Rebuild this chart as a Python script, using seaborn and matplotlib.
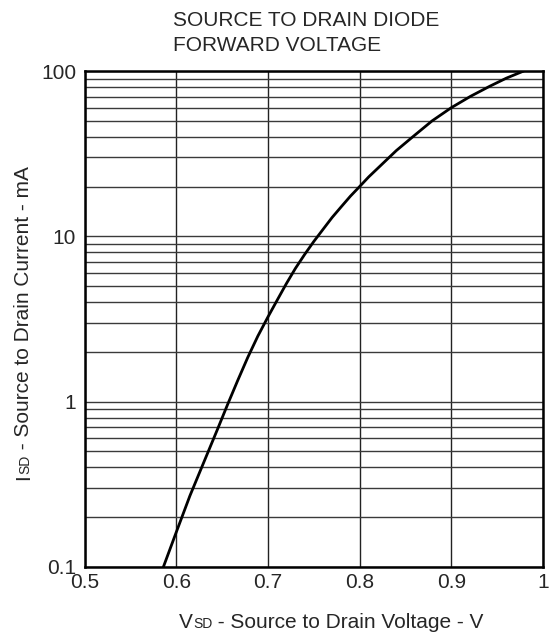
import matplotlib
matplotlib.use("Agg")
import matplotlib.pyplot as plt
import seaborn as sns
import pandas as pd
from matplotlib.ticker import FixedLocator, NullFormatter

# ---- data ----
vsd = [0.586, 0.600, 0.615, 0.635, 0.645, 0.656, 0.667, 0.678, 0.689, 0.700,
       0.710, 0.720, 0.730, 0.740, 0.750, 0.760, 0.770, 0.780, 0.790, 0.800,
       0.810, 0.822, 0.840, 0.858, 0.879, 0.900, 0.921, 0.942, 0.960, 0.979]
isd = [0.10, 0.162, 0.27, 0.50, 0.68, 0.96, 1.34, 1.85, 2.49, 3.25,
       4.1, 5.16, 6.4, 7.76, 9.3, 11.0, 13.0, 15.1, 17.5, 20.0,
       22.9, 26.5, 33.0, 40.0, 49.9, 60.0, 70.3, 80.9, 90.5, 100.0]
x_ticks = [0.5, 0.6, 0.7, 0.8, 0.9, 1.0]
x_tick_labels = ["0.5", "0.6", "0.7", "0.8", "0.9", "1"]
y_ticks = [0.1, 1, 10, 100]
y_tick_labels = ["0.1", "1", "10", "100"]
title_lines = ["SOURCE TO DRAIN DIODE", "FORWARD VOLTAGE"]
xlabel_parts = ["V", "SD", " - Source to Drain Voltage - V"]
ylabel_parts = ["I", "SD", " - Source to Drain Current - mA"]

sns.set_style("white")
plt.rcParams['font.family'] = ['Liberation Sans', 'DejaVu Sans']

W, H = 556, 633
fig = plt.figure(figsize=(W / 100, H / 100), dpi=100)
L, R, T, B = 84.5, 543.0, 71.0, 567.0
ax = fig.add_axes([L / W, 1 - B / H, (R - L) / W, (B - T) / H])

df = pd.DataFrame({"V": vsd, "I": isd})
sns.lineplot(data=df, x="V", y="I", ax=ax, color="black", linewidth=2.0,
             zorder=5, sort=False)

ax.set_yscale("log")
ax.set_xlim(0.5, 1.0)
ax.set_ylim(0.1, 100)

ax.xaxis.set_major_locator(FixedLocator(x_ticks))
ax.set_xticklabels(x_tick_labels)
ax.yaxis.set_major_locator(FixedLocator(y_ticks))
ax.set_yticklabels(y_tick_labels)
minors = [m * 10.0 ** e for e in (-1, 0, 1) for m in range(2, 10)]
ax.yaxis.set_minor_locator(FixedLocator(minors))
ax.yaxis.set_minor_formatter(NullFormatter())

ax.grid(True, which="both", axis="y", color="#3a3a3a", linewidth=1.0)
ax.grid(True, which="major", axis="x", color="#222222", linewidth=1.0)

fs = 15
ax.tick_params(axis="both", which="both", length=0, labelsize=fs)
ax.tick_params(axis="y", pad=6)
ax.tick_params(axis="x", pad=4.3)

for s in ax.spines.values():
    s.set_visible(True)
    s.set_color("black")
    s.set_linewidth(1.8)

ax.set_xlabel("")
ax.set_ylabel("")

# Title: two lines, left aligned
fig.text(173 / W, 1 - 26 / H, title_lines[0], ha="left", va="baseline",
         fontsize=15)
fig.text(173 / W, 1 - 51 / H, title_lines[1], ha="left", va="baseline",
         fontsize=15)

renderer = fig.canvas.get_renderer()
sizes = [fs, 10, fs]

# X label pieces along a common baseline
x0, yb = 179.0, H - 628.0
for txt, sz in zip(xlabel_parts, sizes):
    t = fig.text(x0 / W, yb / H, txt, ha="left", va="baseline", fontsize=sz)
    bb = t.get_window_extent(renderer)
    x0 += bb.width

# Y label pieces, rotated, along a common baseline
xb, y0 = 29.0, H - 480.0
for txt, sz in zip(ylabel_parts, sizes):
    t = fig.text(xb / W, y0 / H, txt, ha="left", va="baseline", fontsize=sz,
                 rotation=90, rotation_mode="anchor")
    bb = t.get_window_extent(renderer)
    y0 += bb.height

fig.savefig("out.png", dpi=100)
